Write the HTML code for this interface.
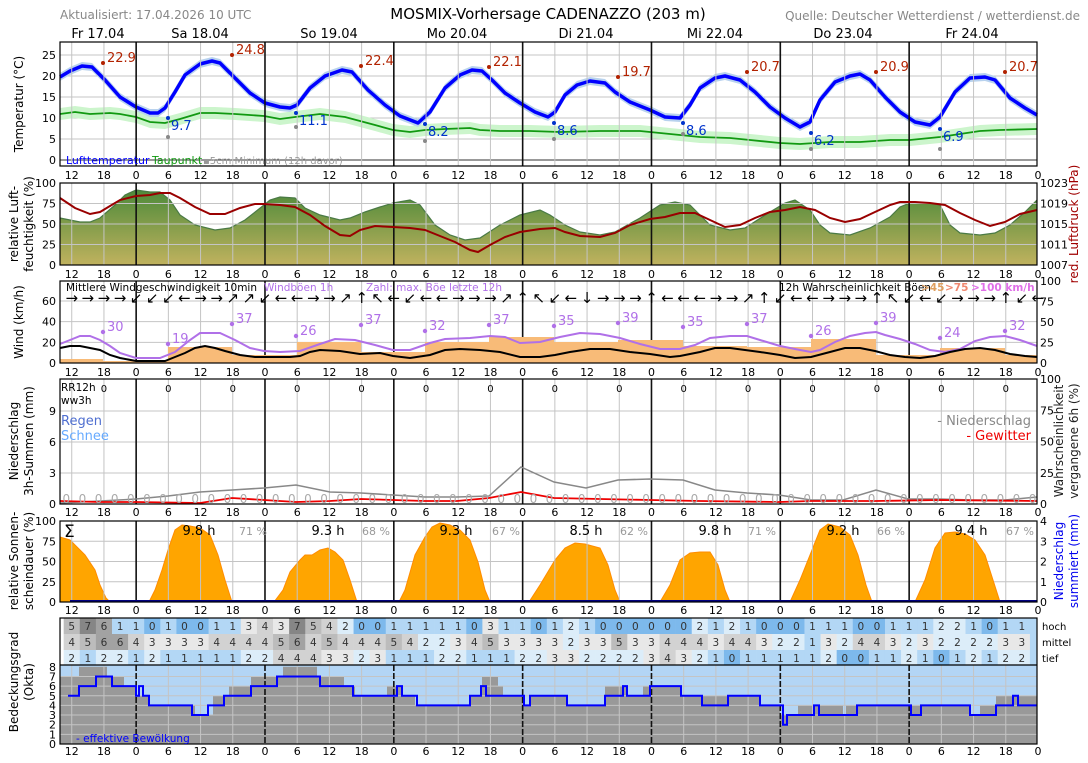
<!DOCTYPE html>
<html><head><meta charset="utf-8">
<style>
body{margin:0;background:#fff;}
svg{display:block;font-family:"DejaVu Sans","Liberation Sans",sans-serif;}
</style></head>
<body>
<svg id="s" width="1088" height="763" viewBox="0 0 1088 763" xmlns="http://www.w3.org/2000/svg">
<defs>
<linearGradient id="hg" x1="0" y1="0" x2="0" y2="1">
<stop offset="0" stop-color="#4e8a3a"/><stop offset="1" stop-color="#c0b25e"/>
</linearGradient>
</defs>
<rect width="1088" height="763" fill="#fff"/>
<g id="bg"></g>
<g id="fg"></g>
<text x="60" y="19" font-size="12" fill="#888">Aktualisiert: 17.04.2026 10 UTC</text>
<text x="548" y="19" font-size="15" text-anchor="middle">MOSMIX-Vorhersage CADENAZZO (203 m)</text>
<text x="1080" y="20" font-size="12" fill="#888" text-anchor="end">Quelle: Deutscher Wetterdienst / wetterdienst.de</text>
<g font-size="13" text-anchor="middle">
<text x="98" y="38">Fr 17.04</text><text x="200" y="38">Sa 18.04</text><text x="329" y="38">So 19.04</text><text x="457" y="38">Mo 20.04</text><text x="586" y="38">Di 21.04</text><text x="715" y="38">Mi 22.04</text><text x="843" y="38">Do 23.04</text><text x="972" y="38">Fr 24.04</text>
</g>
<g font-size="12" text-anchor="middle">
<text transform="translate(23,104) rotate(-90)">Temperatur (°C)</text>
<text transform="translate(18,224) rotate(-90)">relative Luft-</text>
<text transform="translate(33,224) rotate(-90)">feuchtigkeit (%)</text>
<text transform="translate(23,322) rotate(-90)">Wind (km/h)</text>
<text transform="translate(18,441) rotate(-90)">Niederschlag</text>
<text transform="translate(33,441) rotate(-90)">3h-Summen (mm)</text>
<text transform="translate(18,561) rotate(-90)">relative Sonnen-</text>
<text transform="translate(33,561) rotate(-90)">scheindauer (%)</text>
<text transform="translate(18,682) rotate(-90)">Bedeckungsgrad</text>
<text transform="translate(33,682) rotate(-90)">(Okta)</text>
<text transform="translate(1078,224) rotate(-90)" fill="#a00000">red. Luftdruck (hPa)</text>
<text transform="translate(1063,441) rotate(-90)" fill="#222">Wahrscheinlichkeit</text>
<text transform="translate(1078,441) rotate(-90)" fill="#222">vergangene 6h (%)</text>
<text transform="translate(1063,561) rotate(-90)" fill="#0000ee">Niederschlag</text>
<text transform="translate(1078,561) rotate(-90)" fill="#0000ee">summiert (mm)</text>
</g>
<g font-size="11">
<text x="66" y="164" fill="#0000ff">Lufttemperatur</text>
<text x="152" y="164" fill="#119911">Taupunkt</text>
<text x="203" y="164" fill="#999" font-size="10">▪5cm Minimum (12h davor)</text>
<text x="66" y="291" fill="#000" font-size="10.5">Mittlere Windgeschwindigkeit 10min</text>
<text x="264" y="291" fill="#b070e8" font-size="10.5">Windböen 1h</text>
<text x="366" y="291" fill="#b070e8" font-size="10.5">Zahl: max. Böe letzte 12h</text>
<text x="779" y="291" fill="#000" font-size="10.5">12h Wahrscheinlichkeit Böen</text>
<text x="921" y="291" fill="#e0a060" font-size="10.5" font-weight="bold">&gt;45</text>
<text x="945" y="291" fill="#f08870" font-size="10.5" font-weight="bold">&gt;75</text>
<text x="971" y="291" fill="#e070e8" font-size="10.5" font-weight="bold">&gt;100 km/h</text>
<text x="61" y="391" font-size="10.5">RR12h</text>
<text x="61" y="404" font-size="10.5">ww3h</text>
<text x="61" y="425" font-size="13" fill="#4f6fd0">Regen</text>
<text x="61" y="440" font-size="13" fill="#66aaff">Schnee</text>
<text x="1031" y="425" font-size="13" fill="#888" text-anchor="end">- Niederschlag</text>
<text x="1031" y="440" font-size="13" fill="#ee0000" text-anchor="end">- Gewitter</text>
<text x="64" y="537" font-size="17">Σ</text>
<text x="1042" y="630" font-size="10">hoch</text>
<text x="1042" y="646" font-size="10">mittel</text>
<text x="1042" y="662" font-size="10">tief</text>
<text x="76" y="742" fill="#0000ff" font-size="10.5">- effektive Bewölkung</text>
</g>
</svg>
<script>
const S=document.getElementById('s'),BG=document.getElementById('bg'),FG=document.getElementById('fg');
const NS='http://www.w3.org/2000/svg';
function el(p,t,a,txt){const e=document.createElementNS(NS,t);for(const k in a)e.setAttribute(k,a[k]);if(txt!==undefined)e.textContent=txt;p.appendChild(e);return e;}
const X=h=>61+(h-10)*5.368;
const L=60,R=1037;
const pts=a=>a.map(p=>p[0]+','+p[1]).join(' ');
const panels=[[42,166],[183,265],[281,363],[379,504],[521,602],[665,744]];
// grid
function vgrid(t,b){for(let h=12;h<192;h+=6){const x=X(h);const day=h%24==0;el(BG,'line',{x1:x,x2:x,y1:t,y2:b,stroke:day?'#111':'#c4c4c4','stroke-width':day?1.6:1});}}
function hgrid(ys,t,b){ys.forEach(y=>el(BG,'line',{x1:L,x2:R,y1:y,y2:y,stroke:'#c4c4c4','stroke-width':1}));}
function xt(y){for(let h=12;h<=192;h+=6){el(FG,'text',{x:X(h),y:y,'font-size':11,'text-anchor':'middle'},String(h%24));}}
function yt(vals,yf,x,anchor,col){vals.forEach(v=>el(FG,'text',{x:x,y:yf(v)+4,'font-size':11,'text-anchor':anchor,fill:col||'#000'},String(v)));}
function box(t,b){el(FG,'rect',{x:L,y:t,width:R-L,height:b-t,fill:'none',stroke:'#000','stroke-width':1.2});}
// Temperature
const Ty=v=>160-v*4.2;
hgrid([0,5,10,15,20,25].map(Ty));
el(BG,'line',{x1:L,x2:R,y1:160,y2:160,stroke:'#333'});
const dew=[[60,114],[75,112],[90,114],[110,113],[120,114],[136,117],[150,122],[165,123],[180,119],[200,113],[215,113],[235,114],[264,116],[280,119],[295,117],[320,114],[345,117],[360,121],[375,125],[393,130],[410,132],[425,130],[445,129],[470,128],[480,130],[500,131],[530,131],[560,132],[600,131],[640,131],[660,133],[700,137],[730,138],[750,140],[780,143],[800,144],[830,142],[860,142],[890,140],[910,140],[940,137],[960,134],[980,131],[1000,130],[1037,129]];
const tmp=[[60,77],[70,71],[82,66],[92,67],[105,80],[120,97],[136,107],[150,113],[158,113],[165,108],[175,92],[185,75],[200,64],[212,61],[220,63],[235,78],[250,93],[265,103],[280,107],[290,108],[297,105],[310,88],[325,76],[342,70],[352,72],[368,90],[385,105],[400,116],[418,123],[430,112],[445,88],[460,75],[472,70],[482,71],[492,80],[505,93],[520,103],[535,112],[548,117],[555,112],[565,95],[577,85],[590,81],[605,83],[615,92],[630,102],[650,110],[665,117],[680,118],[690,105],[700,88],[715,78],[725,76],[740,80],[755,92],[770,107],[785,118],[800,127],[810,122],[820,100],[835,82],[850,76],[860,74],[870,80],[885,97],[900,112],[915,122],[930,125],[940,117],[955,92],[970,78],[985,77],[995,80],[1010,98],[1025,108],[1037,115]];
function band(a,d,fill){const up=a.map(p=>[p[0],p[1]-d]),dn=a.map(p=>[p[0],p[1]+d]).reverse();el(BG,'polygon',{points:pts(up.concat(dn)),fill:fill});}
band(dew,6,'#ccf5cc');band(tmp,4,'#b8d2ee');
el(BG,'polyline',{points:pts(dew),fill:'none',stroke:'#119911','stroke-width':1.8});
el(BG,'polyline',{points:pts(tmp),fill:'none',stroke:'#0000ff','stroke-width':3.5,'stroke-linejoin':'round'});
[[103,63,'22.9'],[232,55,'24.8'],[361,66,'22.4'],[489,67,'22.1'],[618,77,'19.7'],[747,72,'20.7'],[876,72,'20.9'],[1005,72,'20.7']].forEach(m=>{el(FG,'circle',{cx:m[0],cy:m[1],r:2,fill:'#b22200'});el(FG,'text',{x:m[0]+4,y:m[1]-1,'font-size':13,fill:'#b22200'},m[2]);});
[[168,118,137,'9.7'],[296,113,127,'11.1'],[425,124,141,'8.2'],[554,123,139,'8.6'],[683,123,134,'8.6'],[811,133,149,'6.2'],[940,129,149,'6.9']].forEach(m=>{el(FG,'circle',{cx:m[0],cy:m[1],r:2,fill:'#0033cc'});el(FG,'circle',{cx:m[0],cy:m[2],r:2,fill:'#888'});el(FG,'text',{x:m[0]+3,y:m[1]+12,'font-size':13,fill:'#0033cc'},m[3]);});
vgrid(42,166);box(42,166);yt([0,5,10,15,20,25],Ty,56,'end');xt(179);
// Humidity
const Hy=v=>265-v*0.82;
const hum=[[60,218],[80,222],[90,222],[100,218],[115,205],[125,195],[136,190],[150,192],[160,192],[170,200],[180,215],[195,225],[215,230],[230,228],[245,220],[264,205],[270,200],[280,197],[295,198],[305,208],[320,215],[340,220],[350,218],[365,212],[380,207],[393,203],[410,200],[420,205],[435,225],[450,235],[465,240],[480,238],[500,225],[520,215],[540,210],[550,215],[565,225],[580,232],[600,235],[615,232],[640,218],[660,205],[675,202],[690,205],[700,215],[710,225],[730,230],[745,228],[770,212],[785,203],[795,200],[810,210],[820,225],[830,233],[850,235],[870,228],[890,217],[900,207],[910,203],[930,203],[940,205],[950,225],[960,233],[980,235],[995,233],[1010,225],[1025,212],[1037,200]];
el(BG,'polygon',{points:pts([[60,265]].concat(hum,[[1037,265]])),fill:'url(#hg)'});
el(BG,'polyline',{points:pts(hum),fill:'none',stroke:'#4a7a45','stroke-width':1.2});
hgrid([0,25,50,75].map(Hy));vgrid(183,265);
const pr=[[60,198],[75,208],[90,214],[100,212],[110,206],[120,200],[136,196],[150,195],[160,193],[170,193],[180,198],[195,207],[210,214],[225,214],[240,208],[255,204],[264,204],[280,205],[295,207],[310,215],[325,226],[340,235],[350,236],[360,230],[375,226],[393,227],[410,228],[425,230],[440,236],[455,242],[470,250],[478,252],[490,245],[505,237],[520,232],[540,229],[555,228],[565,232],[580,236],[600,237],[615,233],[630,225],[650,219],[665,217],[680,213],[695,213],[710,220],[725,227],[740,225],[755,218],[770,212],[785,210],[800,207],[815,210],[830,218],[845,222],[860,219],[875,212],[890,205],[900,202],[915,202],[930,203],[945,205],[960,213],[975,220],[990,226],[1005,222],[1020,214],[1037,210]];
el(FG,'polyline',{points:pts(pr),fill:'none',stroke:'#990000','stroke-width':2});
box(183,265);yt([0,25,50,75,100],Hy,56,'end');yt([1007,1011,1015,1019,1023],v=>265-(v-1007)*5.125,1040,'start');xt(278);
// Wind
const Wy=v=>363-v*1.033;
hgrid([20,40,60].map(Wy));vgrid(281,363);
[[60,103,359],[103,168,361],[168,232,347],[232,297,355],[297,361,342],[361,425,352],[425,489,342],[489,554,337],[554,618,342],[618,683,340],[683,747,346],[747,811,347],[811,876,339],[876,940,355],[940,1005,348],[1005,1037,355]].forEach(b=>el(BG,'rect',{x:b[0],y:b[2],width:b[1]-b[0],height:363-b[2],fill:'#f8bb78'}));
const wb=[[60,348],[70,346],[80,346],[90,348],[100,350],[110,355],[120,358],[136,361],[150,361],[165,361],[175,357],[185,353],[195,348],[205,346],[215,348],[225,351],[240,355],[255,357],[264,357],[290,357],[300,356],[310,352],[320,350],[340,351],[360,354],[380,353],[393,356],[410,358],[430,355],[445,350],[460,349],[480,350],[500,352],[520,357],[540,357],[555,355],[570,352],[590,349],[610,349],[630,352],[650,354],[670,357],[680,356],[700,352],[715,348],[730,348],[745,350],[760,352],[780,355],[795,358],[811,357],[830,352],[845,348],[860,348],[875,351],[890,355],[905,357],[920,358],[935,356],[950,352],[965,349],[980,348],[995,350],[1010,354],[1025,356],[1037,357]];
const wg=[[60,344],[70,340],[80,336],[90,336],[100,340],[110,346],[120,353],[136,358],[150,358],[160,358],[175,352],[190,340],[200,333],[220,333],[235,340],[250,348],[264,351],[280,352],[300,351],[320,344],[335,339],[355,340],[375,345],[393,350],[410,350],[430,343],[445,339],[470,338],[490,336],[505,337],[520,343],[540,342],[560,337],[580,333],[600,334],[620,338],[640,344],[660,349],[680,349],[695,345],[710,338],[730,336],[747,336],[760,340],[780,346],[800,350],[811,352],[820,350],[835,342],[850,336],[865,333],[876,332],[885,335],[900,339],[915,344],[930,350],[945,352],[960,349],[975,341],[990,337],[1005,336],[1020,340],[1037,346]];
el(FG,'polyline',{points:pts(wg),fill:'none',stroke:'#b070e8','stroke-width':2});
el(FG,'polyline',{points:pts(wb),fill:'none',stroke:'#000','stroke-width':2});
[[103,332,30],[168,344,19],[232,324,37],[296,336,26],[361,325,37],[425,331,32],[489,325,37],[554,326,35],[618,323,39],[683,327,35],[747,324,37],[811,336,26],[876,323,39],[940,338,24],[1005,331,32]].forEach(m=>{el(FG,'circle',{cx:m[0],cy:m[1],r:2.2,fill:'#b070e8'});el(FG,'text',{x:m[0]+4,y:m[1]-1,'font-size':13,fill:'#b070e8'},String(m[2]));});
const arr='→→→→↙↙↙←→→↗↗↙←←→→↗↑↖←↙←←→→→↗↑↖↙←↓→→→↑←←←→→↗↑↙←←→→→↑↖↙←↙→→→↑↙←↓';
for(let i=0;i<arr.length&&i<61;i++){el(FG,'text',{x:X(12+3*i),y:303,'font-size':15,'text-anchor':'middle'},arr[i]);}
box(281,363);yt([0,20,40,60],Wy,56,'end');yt([0,25,50,75,100],v=>363-v*0.82,1040,'start');xt(376);
// Precip
const Py=v=>504-v*10.33;
hgrid([3,6,9].map(Py));
[0,25,50,75].forEach(v=>{});
vgrid(379,504);
const pg=[[60,503],[100,501],[136,499],[168,496],[200,492],[232,490],[264,488],[296,485],[330,492],[361,493],[393,495],[425,497],[457,497],[489,496],[521,467],[554,482],[586,488],[618,480],[650,479],[683,480],[715,490],[747,493],[779,495],[811,500],[843,500],[876,490],[908,499],[940,499],[972,500],[1005,500],[1037,497]];
const prd=[[60,501],[100,502],[136,502],[200,503],[232,498],[264,500],[296,502],[330,501],[361,499],[393,500],[425,501],[457,501],[489,498],[521,492],[554,498],[600,499],[650,500],[700,501],[779,502],[811,501],[876,501],[940,500],[1037,501]];
el(FG,'polyline',{points:pts(pg),fill:'none',stroke:'#888','stroke-width':1.5});
el(FG,'polyline',{points:pts(prd),fill:'none',stroke:'#ee0000','stroke-width':1.8});
for(let i=0;i<61;i++)el(FG,'text',{x:X(11+3*i),y:503,'font-size':12,'text-anchor':'middle',fill:'#aaa'},'0');
for(let h=18;h<192;h+=12)el(FG,'text',{x:X(h),y:392,'font-size':10,'text-anchor':'middle'},'0');
box(379,504);yt([0,3,6,9],Py,56,'end');yt([0,25,50,75,100],v=>504-v*1.25,1040,'start');xt(516);
// Sunshine
const Sy=v=>602-v*0.81;
hgrid([25,50,75].map(Sy));
const suns=[[[60,537],[70,540],[75,545],[85,555],[95,570],[100,585],[106,598],[110,602]],[[149,602],[155,590],[162,570],[168,550],[175,530],[182,525],[190,526],[200,528],[210,535],[218,555],[225,580],[232,602]],[[274,602],[283,590],[290,572],[300,560],[305,555],[312,555],[320,550],[328,548],[335,552],[343,560],[350,580],[357,602]],[[399,602],[405,590],[415,555],[425,537],[432,527],[440,523],[450,525],[460,530],[470,540],[478,562],[485,590],[490,602]],[[529,602],[540,585],[555,560],[565,548],[575,543],[585,544],[600,548],[608,565],[615,590],[620,602]],[[660,602],[670,585],[680,560],[690,553],[700,552],[710,552],[718,565],[725,590],[730,602]],[[790,602],[800,580],[810,555],[820,530],[828,524],[840,527],[850,535],[858,555],[866,585],[872,602]],[[915,602],[925,580],[935,548],[945,533],[955,532],[965,534],[975,540],[985,555],[993,580],[1000,602]]];
suns.forEach((s,i)=>{const a=i==0?[[60,602]].concat(s):s;el(BG,'polygon',{points:pts(a),fill:'#ffa500',stroke:'#ff8c00','stroke-width':1});});
vgrid(521,602);
el(FG,'line',{x1:70,x2:1037,y1:601,y2:601,stroke:'#000080','stroke-width':2});
[[199,253,'9.8 h','71 %'],[328,376,'9.3 h','68 %'],[456,506,'9.3 h','67 %'],[586,634,'8.5 h','62 %'],[715,762,'9.8 h','71 %'],[843,891,'9.2 h','66 %'],[971,1020,'9.4 h','67 %']].forEach(m=>{el(FG,'text',{x:m[0],y:535,'font-size':13,'text-anchor':'middle'},m[2]);el(FG,'text',{x:m[1],y:535,'font-size':11,'text-anchor':'middle',fill:'#999'},m[3]);});
box(521,602);yt([0,25,50,75,100],Sy,56,'end');yt([0,1,2,3,4],v=>602-v*20.25,1040,'start');xt(614);
// Cloud table
const hoch=[5,7,6,1,1,0,1,0,0,1,1,3,4,3,7,5,4,2,0,0,1,1,1,1,1,0,3,1,1,0,1,2,1,0,0,0,0,0,0,2,1,2,1,0,0,0,1,1,1,0,0,1,1,1,2,2,1,0,1,1];
const mit=[4,5,6,6,4,3,3,3,3,4,4,4,4,5,6,4,5,4,4,4,5,4,2,2,3,4,5,3,3,3,3,2,3,3,5,3,3,4,4,4,3,4,4,3,2,2,1,3,2,4,4,3,2,3,2,2,2,2,3,3];
const tief=[2,1,2,2,1,2,1,1,1,1,1,2,2,4,4,4,3,3,2,3,1,1,1,2,2,1,1,1,2,2,3,3,2,2,2,2,3,4,3,2,1,0,1,1,1,1,1,2,0,0,1,1,2,1,0,1,2,1,2,2];
const col=['#7db9ec','#b3d7f5','#dcedf9','#e8e8e8','#d2d2d2','#bcbcbc','#a2a2a2','#868686','#707070'];
[[hoch,618],[mit,634],[tief,650]].forEach(r=>{r[0].forEach((v,i)=>{let x0=X(10.5+3*i),x1=X(13.5+3*i);if(x0<L)x0=L;if(x1>R)x1=R;el(BG,'rect',{x:x0,y:r[1],width:x1-x0+0.3,height:16,fill:col[v]});el(FG,'text',{x:X(12+3*i),y:r[1]+12,'font-size':10.5,'text-anchor':'middle',fill:'#333'},String(v));});});
el(BG,'rect',{x:X(190.5),y:618,width:R-X(190.5),height:47,fill:'#b3d7f5'});
// Cloud chart
const Cy=v=>744-v*9.65;
el(BG,'rect',{x:L,y:665,width:R-L,height:79,fill:'#b3d5f5'});
function steps(a,x0){let d='M'+x0+','+Cy(a[0][1]);let px=x0;a.forEach(s=>{d+=' L'+px+','+Cy(s[1])+' L'+s[0]+','+Cy(s[1]);px=s[0];});return d;}
const gray=[[63,8],[79,7],[107,8],[124,7],[136,6],[150,5],[195,4],[213,3],[229,5],[251,6],[283,7],[317,8],[344,7],[355,6],[387,5],[402,6],[415,5],[470,4],[482,5],[498,7],[503,6],[523,5],[530,4],[567,5],[605,4],[627,6],[643,5],[682,6],[713,5],[760,5],[780,4],[798,3],[843,4],[846,3],[970,4],[980,3],[996,4],[1037,5]];
gray[0]=[63,7];
el(BG,'path',{d:steps(gray,60)+' L1037,744 L60,744 Z',fill:'#999'});
for(let v=1;v<=7;v++)el(BG,'line',{x1:L,x2:R,y1:Cy(v),y2:Cy(v),stroke:'#c4c4c4'});
for(let h=12;h<192;h+=6){const x=X(h);const day=h%24==0;el(BG,'line',{x1:x,x2:x,y1:665,y2:744,stroke:day?'#111':'#c4c4c4','stroke-width':day?1.6:1,'stroke-dasharray':day?'6,2':''});}
const eff=[[79,5],[96,6],[112,7],[136,6],[139,5],[143,6],[149,5],[192,4],[208,3],[224,4],[251,5],[277,6],[320,7],[353,6],[397,5],[402,6],[417,5],[470,4],[481,5],[486,6],[524,5],[530,4],[567,5],[605,4],[623,5],[627,6],[650,5],[681,6],[702,5],[728,4],[760,5],[783,4],[787,2],[814,3],[819,4],[857,3],[911,4],[921,3],[970,4],[996,3],[1013,4],[1018,5],[1037,4]];
el(FG,'path',{d:steps(eff,68),fill:'none',stroke:'#0000ff','stroke-width':2});
el(FG,'rect',{x:L,y:618,width:R-L,height:126,fill:'none',stroke:'#000','stroke-width':1.2});
el(FG,'line',{x1:L,x2:R,y1:665,y2:665,stroke:'#000','stroke-width':1.2});
for(let v=0;v<=8;v++)el(FG,'text',{x:56,y:Cy(v)+4,'font-size':11,'text-anchor':'end'},String(v));
xt(755);
</script>
</body></html>
